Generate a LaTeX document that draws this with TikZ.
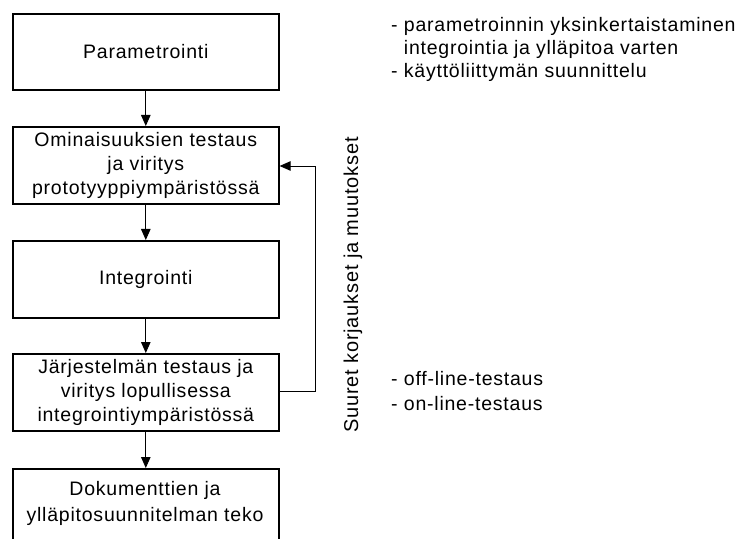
\documentclass[tikz,border=0pt]{standalone}
\usepackage{fontspec}
\setmainfont{Liberation Sans}[LetterSpace=4]
\usetikzlibrary{arrows.meta}
\begin{document}
\begin{tikzpicture}[x=1bp,y=-1bp,
  every node/.style={font=\fontsize{19.5bp}{24bp}\selectfont, inner sep=0pt},
  stepbox/.style={draw, line width=1.6bp, minimum width=266bp, align=center, anchor=north west},
  flow/.style={line width=0.9bp, -{Triangle[width=9.5bp,length=11bp]}},
  note/.style={anchor=base west}]
\useasboundingbox (0,0) rectangle (741,539);
\clip (0,0) rectangle (741,539);
\node[stepbox, minimum height=76bp] (b1) at (12,13) {Parametrointi};
\node[stepbox, minimum height=77bp] (b2) at (12,126) {Ominaisuuksien testaus\\ja viritys\\prototyyppiympäristössä};
\node[stepbox, minimum height=77bp] (b3) at (12,240) {Integrointi};
\node[stepbox, minimum height=77bp] (b4) at (12,353) {Järjestelmän testaus ja\\viritys lopullisessa\\integrointiympäristössä};
\node[draw, line width=1.6bp, minimum width=266bp, minimum height=90bp, anchor=north west] (b5) at (12,468) {};
\node[anchor=base] (t5a) at (145,495) {Dokumenttien ja};
\node[anchor=base] (t5b) at (145,521) {ylläpitosuunnitelman teko};
\draw[flow] (b1.south) -- (b2.north);
\draw[flow] (b2.south) -- (b3.north);
\draw[flow] (b3.south) -- (b4.north);
\draw[flow] (b4.south) -- (b5.north);
\coordinate (c1) at (315,391);
\coordinate (c2) at (315,166);
\draw[flow] (b4.east |- c1) -- (c1) -- (c2) -- (b2.east |- c2);
\node[rotate=90, anchor=base, font=\fontsize{20bp}{24bp}\selectfont] (lab) at (358,285) {Suuret korjaukset ja muutokset};
\node[note] (n1a) at (391,32) {- parametroinnin yksinkertaistaminen};
\node[note] (n1b) at (391,55) {\phantom{- }integrointia ja ylläpitoa varten};
\node[note] (n1c) at (391,78) {- käyttöliittymän suunnittelu};
\node[note] (n2a) at (391,385) {- off-line-testaus};
\node[note] (n2b) at (391,410) {- on-line-testaus};
\end{tikzpicture}
\end{document}
